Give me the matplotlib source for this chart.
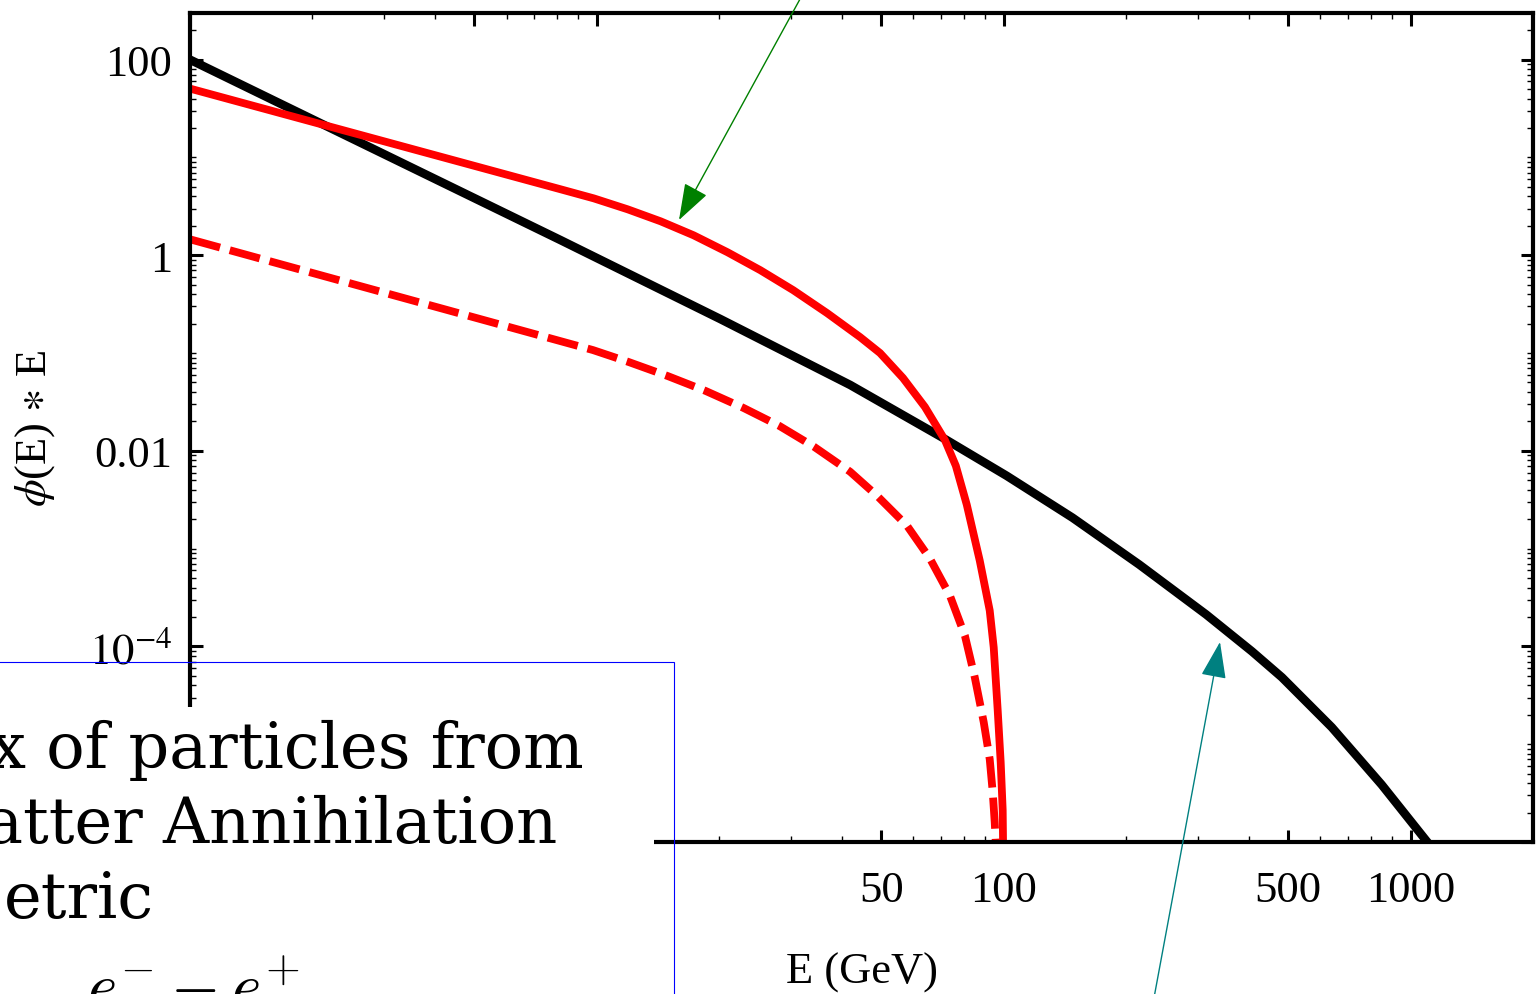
import numpy as np
import matplotlib
matplotlib.use("Agg")
import matplotlib.pyplot as plt
from matplotlib.patches import Rectangle, FancyArrowPatch
from matplotlib.ticker import FixedLocator, LogLocator, NullFormatter

W, H = 1537, 995

# background (black) curve
E_BG    = [1.0, 8.16, 20.13, 41.94, 70.9, 101.7, 147.6, 215.4, 314.5, 407.6, 482.9,
           640.2, 849.1, 1094.6, 1239]
FLUX_BG = [100, 1.422, 0.2223, 0.04717, 0.01357, 5.556e-3, 2.072e-3, 6.866e-4, 2.121e-4,
           8.89e-5, 4.83e-5, 1.491e-5, 3.86e-6, 1.024e-6, 5.43e-7]

# dark matter signal (solid red)
E_DM    = [1.0, 8.16, 9.83, 11.91, 14.35, 17.29, 20.95, 25.23, 30.39, 36.82, 44.36, 49.67,
           56.56, 64.03, 71.66, 76.27, 81.15, 87.33, 92.40, 94.51, 96.67, 98.32, 99.44, 99.8]
FLUX_DM = [50.6, 4.716, 3.815, 2.947, 2.223, 1.600, 1.073, 0.703, 0.4394, 0.2559, 0.1456, 0.1,
           0.05556, 0.02812, 0.01295, 7.03e-3, 2.81e-3, 7.54e-4, 2.33e-4, 9.77e-5, 2.22e-5,
           6.55e-6, 2.12e-6, 5.43e-7]

# dark matter signal (dashed red)
E_DM2    = [1.0, 9.78, 11.98, 14.93, 18.50, 22.93, 28.09, 34.21, 41.94, 48.84, 57.86,
            65.88, 73.76, 80.26, 84.90, 89.32, 92.40, 93.98, 95.04, 95.59, 96.12]
FLUX_DM2 = [1.456, 0.1073, 0.0809, 0.0582, 0.0410, 0.02747, 0.01799, 0.01099, 6.11e-3,
            3.47e-3, 1.716e-3, 7.91e-4, 3.31e-4, 1.295e-4, 4.83e-5, 1.677e-5, 7.03e-6,
            3.24e-6, 1.60e-6, 1.0e-6, 5.43e-7]

X_TICKS       = [1, 5, 10, 50, 100, 500, 1000]
X_TICK_LABELS = ["", "", "", "50", "100", "500", "1000"]
Y_TICKS       = [1e-6, 1e-4, 1e-2, 1, 100]
Y_TICK_LABELS = ["", r"$10^{-4}$", "0.01", "1", "100"]

BOX_LINES = ["x of particles from", "atter Annihilation", "etric"]
BOX_MATH  = r"$e^{-} - e^{+}$"

plt.rcParams["font.family"] = "Liberation Serif"
plt.rcParams["mathtext.fontset"] = "stix"


def fx(x):
    return x / W


def fy(y):
    return 1 - y / H


fig = plt.figure(figsize=(W / 100, H / 100), dpi=100)
ax = fig.add_axes([fx(190), fy(843), (1533 - 190) / W, (843 - 14) / H])

ax.plot(E_BG, FLUX_BG, color="black", lw=6.2)
ax.plot(E_DM, FLUX_DM, color="#ff0000", lw=5.6)
ax.plot(E_DM2, FLUX_DM2, color="#ff0000", lw=5.6, ls=(0, (4.0, 1.3)))

ax.set_xscale("log")
ax.set_yscale("log")
ax.set_xlim(1, 2000)
ax.set_ylim(1e-6, 300)

ax.xaxis.set_major_locator(FixedLocator(X_TICKS))
ax.set_xticklabels(X_TICK_LABELS)
ax.xaxis.set_minor_locator(LogLocator(base=10, subs=np.arange(2, 10), numticks=100))
ax.xaxis.set_minor_formatter(NullFormatter())
ax.yaxis.set_major_locator(FixedLocator(Y_TICKS))
ax.set_yticklabels(Y_TICK_LABELS)
ax.yaxis.set_minor_locator(LogLocator(base=10, subs=np.arange(1, 10), numticks=100))
ax.yaxis.set_minor_formatter(NullFormatter())

for s in ax.spines.values():
    s.set_linewidth(3)
ax.tick_params(which="both", direction="in", top=True, right=True)
ax.tick_params(which="major", length=9, width=2.2, labelsize=32)
ax.tick_params(which="minor", length=4, width=1.0)
ax.tick_params(axis="x", which="major", pad=20)
ax.tick_params(axis="y", which="major", pad=13)

ax.set_xlabel("E (GeV)", fontsize=32)
ax.xaxis.set_label_coords(0.5, -(953 - 843) / 829)
ax.set_ylabel(r"$\phi$(E) $\ast$ E", fontsize=32)
ax.yaxis.set_label_coords(-(190 - 57) / 1343, 0.5)

# overlaid slide text box
fig.add_artist(Rectangle((-0.01, -0.02), fx(654) + 0.01, (H - 708) / H + 0.02,
                         transform=fig.transFigure, facecolor="white",
                         edgecolor="none", zorder=5))
fig.add_artist(Rectangle((-0.01, -0.02), fx(674) + 0.01, (H - 663) / H + 0.02,
                         transform=fig.transFigure, fill=False,
                         edgecolor="#0000ff", lw=0.8, zorder=6))

for txt, xr, yb in zip(BOX_LINES, [584, 557, 154], [768, 843, 918]):
    fig.text(fx(xr), fy(yb), txt, ha="right", va="baseline", fontsize=46,
             family="DejaVu Serif", zorder=7)
fig.text(fx(87), fy(1008), BOX_MATH, ha="left", va="baseline", fontsize=46,
         math_fontfamily="cm", zorder=7)

# annotation arrows
for start, tip, col in [((811, -20), (679, 221), "#008000"),
                        ((1151, 1015), (1220, 643), "#008080")]:
    fig.add_artist(FancyArrowPatch((fx(start[0]), fy(start[1])), (fx(tip[0]), fy(tip[1])),
                                   transform=fig.transFigure,
                                   arrowstyle="-|>,head_length=2.3,head_width=0.8",
                                   mutation_scale=10, color=col, lw=1.0,
                                   shrinkA=0, shrinkB=0, zorder=8))

fig.savefig("out.png", dpi=100)
